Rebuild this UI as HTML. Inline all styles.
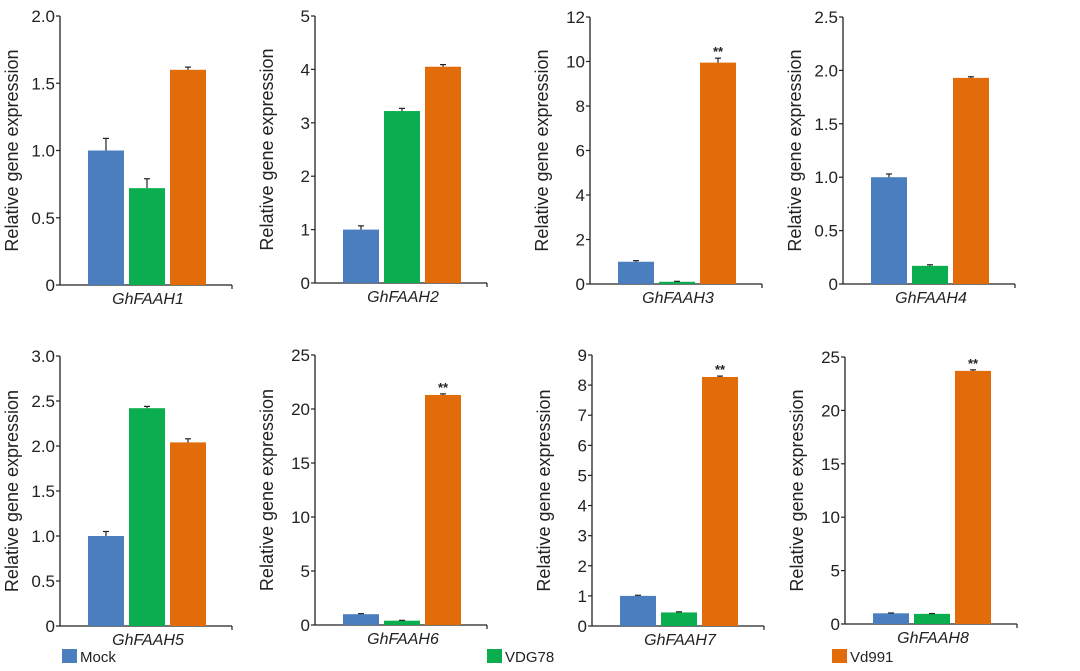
<!DOCTYPE html>
<html><head><meta charset="utf-8">
<style>
body{margin:0;background:#fff;width:1080px;height:666px;overflow:hidden;font-family:"Liberation Sans",sans-serif;}
svg text{font-family:"Liberation Sans",sans-serif;fill:#222;}
</style></head>
<body>
<svg id="chart" width="1080" height="666"></svg>
<script>
const genes = ["GhFAAH1","GhFAAH2","GhFAAH3","GhFAAH4","GhFAAH5","GhFAAH6","GhFAAH7","GhFAAH8"];
const seriesNames = ["Mock","VDG78","Vd991"];
const mockVals = [1.0,1.0,1.0,1.0,1.0,1.0,1.0,1.0];
const vdg78Vals = [0.72,3.22,0.1,0.17,2.42,0.4,0.45,0.95];
const vd991Vals = [1.6,4.05,9.95,1.93,2.04,21.3,8.27,23.7];
const mockErr = [0.09,0.07,0.05,0.03,0.05,0.05,0.02,0.03];
const vdg78Err = [0.07,0.05,0.02,0.01,0.02,0.03,0.02,0.03];
const vd991Err = [0.02,0.04,0.2,0.01,0.04,0.1,0.03,0.1];
const yMax = [2.0,5,12,2.5,3.0,25,9,25];
const yTicks = [["0","0.5","1.0","1.5","2.0"],["0","1","2","3","4","5"],["0","2","4","6","8","10","12"],["0","0.5","1.0","1.5","2.0","2.5"],["0","0.5","1.0","1.5","2.0","2.5","3.0"],["0","5","10","15","20","25"],["0","1","2","3","4","5","6","7","8","9"],["0","5","10","15","20","25"]];
const significance = ["","","**","","","**","**","**"];
const colors = ["#4a7ebf","#0aae4f","#e36c0a"];

const svg = document.getElementById('chart');
const NS = "http://www.w3.org/2000/svg";
function mk(tag, attrs, parent){const e=document.createElementNS(NS,tag);for(const k in attrs)e.setAttribute(k,attrs[k]);(parent||svg).appendChild(e);return e;}

const axisX = [60,315,590,843,60,315,592,845];
const topY = [16,16,17,17,356,355,355,357];
const zeroY = [285,283,284,284,626,625,626,624];

genes.forEach((g,i)=>{
  const grp = mk('g',{});
  
  
  const ax = axisX[i], y0 = zeroY[i], yt = topY[i];
  const yScale = v => y0 - (v / yMax[i]) * (y0 - yt);
  const axis = mk('line',{x1:ax,y1:yt,x2:ax,y2:y0,stroke:'#222','stroke-width':1.3},grp);
  
  
  const xa = mk('line',{x1:ax,y1:y0,x2:ax+172,y2:y0,stroke:'#222','stroke-width':1.3},grp);
  
  
  mk('line',{x1:ax+172,y1:y0,x2:ax+172,y2:y0+4,stroke:'#222','stroke-width':1.2},grp);
  yTicks[i].forEach(t=>{
    const y = yScale(parseFloat(t));
    mk('line',{x1:ax-4,y1:y,x2:ax,y2:y,stroke:'#222','stroke-width':1.2},grp);
    const tx = mk('text',{x:ax-5,y:y+6,'text-anchor':'end','font-size':17},grp);
    tx.textContent = t;
    
    
  });
  const yl = mk('text',{x:0,y:0,transform:`translate(${ax-42},${(yt+y0)/2}) rotate(-90)`,'text-anchor':'middle','font-size':18},grp);
  yl.textContent = "Relative gene expression";
  
  
  const vals = [mockVals[i],vdg78Vals[i],vd991Vals[i]];
  const errs = [mockErr[i],vdg78Err[i],vd991Err[i]];
  vals.forEach((v,j)=>{
    const bx = ax + 28 + j*41;
    const by = yScale(v);
    const r = mk('rect',{x:bx,y:by,width:36,height:y0-by,fill:colors[j]},grp);
    
    
    const ey = yScale(v+errs[j]);
    mk('line',{x1:bx+18,y1:by,x2:bx+18,y2:ey,stroke:'#222','stroke-width':1.2},grp);
    mk('line',{x1:bx+15,y1:ey,x2:bx+21,y2:ey,stroke:'#222','stroke-width':1.2},grp);
    if(j===2 && significance[i]){
      const s = mk('text',{x:bx+18,y:ey-2,'text-anchor':'middle','font-size':13,'font-weight':'bold'},grp);
      s.textContent = significance[i];
      
      
    }
  });
  const cl = mk('text',{x:ax+88,y:y0+19,'text-anchor':'middle','font-size':16,'font-style':'italic'},grp);
  cl.textContent = g;
  
  
});

const legX = [62,487,832];
seriesNames.forEach((n,j)=>{
  const lg = mk('g',{});
  
  
  mk('rect',{x:legX[j],y:649,width:15,height:14,fill:colors[j]},lg);
  const t = mk('text',{x:legX[j]+18,y:662,'font-size':15},lg);
  t.textContent = n;
});
</script>
</body></html>
